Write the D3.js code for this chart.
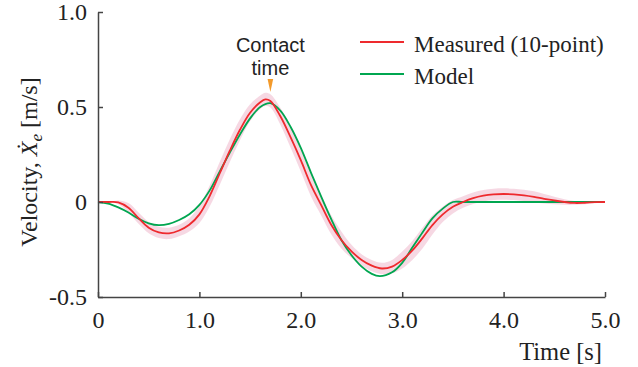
<!DOCTYPE html>
<html>
<head>
<meta charset="utf-8">
<script src="https://cdn.jsdelivr.net/npm/d3@7"></script>
<style>
  body { margin: 0; background: #fff; }
  svg { display: block; }
</style>
</head>
<body>
<div id="chart"></div>
<script>
// time [s] and velocity [m/s]
const measuredT = [0, 0.1, 0.2, 0.3, 0.4, 0.5, 0.6, 0.7, 0.8, 0.9, 1.0, 1.1, 1.2, 1.3, 1.4, 1.5, 1.6, 1.65, 1.7, 1.8, 1.9, 2.0,
  2.1, 2.2, 2.3, 2.4, 2.5, 2.6, 2.7, 2.8, 2.9, 3.0, 3.1, 3.2, 3.3, 3.4, 3.5, 3.6, 3.7, 3.8, 3.9, 4.0, 4.1, 4.2, 4.3,
  4.4, 4.5, 4.6, 4.7, 4.8, 4.9, 5.0];
const measuredV = [0, 0, -0.002, -0.03, -0.085, -0.135, -0.16, -0.165, -0.15, -0.12, -0.065, 0.03, 0.15, 0.27, 0.38, 0.47, 0.525, 0.54, 0.532, 0.45, 0.34, 0.22,
  0.09, -0.015, -0.12, -0.2, -0.26, -0.305, -0.335, -0.35, -0.34, -0.305, -0.255, -0.19, -0.12, -0.065, -0.025, 0.0, 0.02, 0.033, 0.04, 0.042, 0.04, 0.035, 0.027,
  0.017, 0.008, 0.0, -0.005, -0.004, -0.001, 0];
// spread of the 10 trials (half width of the shaded band)
const measuredSd = [0, 0, 0.01, 0.025, 0.03, 0.03, 0.03, 0.03, 0.03, 0.035, 0.045, 0.055, 0.06, 0.06, 0.055, 0.045, 0.035, 0.035, 0.035, 0.045, 0.055, 0.06,
  0.06, 0.055, 0.05, 0.045, 0.035, 0.03, 0.03, 0.03, 0.035, 0.045, 0.05, 0.055, 0.05, 0.04, 0.035, 0.03, 0.03, 0.03, 0.03, 0.03, 0.03, 0.03, 0.03,
  0.025, 0.02, 0.015, 0.01, 0.008, 0.005, 0.005];

const modelT = [0, 0.1, 0.2, 0.3, 0.4, 0.5, 0.6, 0.7, 0.8, 0.9, 1.0, 1.1, 1.2, 1.3, 1.4, 1.5, 1.6, 1.7, 1.8, 1.9, 2.0,
  2.1, 2.2, 2.3, 2.4, 2.5, 2.6, 2.7, 2.78, 2.9, 3.0, 3.1, 3.2, 3.3, 3.4, 3.5, 3.6, 4.0, 4.5, 5.0];
const modelV = [0, -0.008, -0.028, -0.055, -0.088, -0.112, -0.122, -0.115, -0.095, -0.065, -0.015, 0.06, 0.16, 0.26, 0.355, 0.44, 0.5, 0.52, 0.48, 0.395, 0.285,
  0.155, 0.03, -0.09, -0.2, -0.28, -0.34, -0.378, -0.39, -0.37, -0.32, -0.24, -0.16, -0.085, -0.035, 0, 0, 0, 0, 0];

const xTicks = [0, 1, 2, 3, 4, 5];
const xTickLabels = ["0", "1.0", "2.0", "3.0", "4.0", "5.0"];
const yTicks = [-0.5, 0, 0.5, 1.0];
const yTickLabels = ["-0.5", "0", "0.5", "1.0"];
const contactTime = 1.7;

const measured = measuredT.map((t, i) => ({ t: t, v: measuredV[i], sd: measuredSd[i] }));
const model = modelT.map((t, i) => ({ t: t, v: modelV[i] }));

const W = 638, H = 367;
const margin = { top: 12, right: 33, bottom: 70, left: 98 };
const width = W - margin.left - margin.right,
  height = H - margin.top - margin.bottom;

const svg = d3.select("#chart").append("svg")
  .attr("width", W)
  .attr("height", H);
const g = svg.append("g")
  .attr("transform", "translate(" + margin.left + "," + margin.top + ")");

const x = d3.scaleLinear().domain([0, 5]).range([0, width]);
const y = d3.scaleLinear().domain([-0.5, 1.0]).range([height, 0]);

const serif = "'Liberation Serif', 'Times New Roman', serif";
const sans = "'Liberation Sans', Arial, sans-serif";
const axisColor = "#444";

// shaded band
const band = d3.area()
  .curve(d3.curveCatmullRom.alpha(0.5))
  .x(d => x(d.t))
  .y0(d => y(d.v - d.sd))
  .y1(d => y(d.v + d.sd));
g.append("path")
  .datum(measured)
  .attr("d", band)
  .attr("fill", "#f3cbd9")
  .attr("opacity", 0.75);

const line = d3.line()
  .curve(d3.curveCatmullRom.alpha(0.5))
  .x(d => x(d.t))
  .y(d => y(d.v));

g.append("path")
  .datum(model)
  .attr("d", line)
  .attr("fill", "none")
  .attr("stroke", "#00a650")
  .attr("stroke-width", 1.8);

g.append("path")
  .datum(measured)
  .attr("d", line)
  .attr("fill", "none")
  .attr("stroke", "#ee2a2e")
  .attr("stroke-width", 1.8);

// axes with inward ticks
const xAxis = g.append("g")
  .attr("transform", "translate(0," + height + ")")
  .call(d3.axisBottom(x).tickValues(xTicks).tickSize(-5).tickSizeOuter(0).tickFormat((d, i) => xTickLabels[i]));
xAxis.selectAll("text")
  .attr("y", 31)
  .attr("dy", 0)
  .style("font-family", serif)
  .style("font-size", "24px")
  .attr("fill", "#222");

const yAxis = g.append("g")
  .call(d3.axisLeft(y).tickValues(yTicks).tickSize(-5).tickSizeOuter(0).tickFormat((d, i) => yTickLabels[i]));
yAxis.selectAll("text")
  .attr("x", -11)
  .style("font-family", serif)
  .style("font-size", "24px")
  .attr("fill", "#222");

[xAxis, yAxis].forEach(a => {
  a.select(".domain").attr("stroke", axisColor).attr("stroke-width", 1.5);
  a.selectAll(".tick line").attr("stroke", axisColor).attr("stroke-width", 1.5);
});

// axis titles
g.append("text")
  .attr("x", width - 3)
  .attr("y", height + 63)
  .attr("text-anchor", "end")
  .style("font-family", serif)
  .style("font-size", "24.5px")
  .attr("fill", "#222")
  .text("Time [s]");

const ylab = svg.append("text")
  .attr("transform", "translate(37,162) rotate(-90)")
  .attr("text-anchor", "middle")
  .style("font-family", serif)
  .style("font-size", "24px")
  .attr("fill", "#222");
ylab.append("tspan").text("Velocity, ");
ylab.append("tspan").style("font-style", "italic").text("X\u0307");
ylab.append("tspan").style("font-style", "italic").style("font-size", "17px").attr("dy", 5).text("e");
ylab.append("tspan").attr("dy", -5).text(" [m/s]");

// contact time marker
const cx = x(contactTime);
g.append("path")
  .attr("d", "M" + (cx - 2.8) + ",67L" + (cx + 2.8) + ",67L" + cx + ",80Z")
  .attr("fill", "#f39a2b");
const contact = g.append("text")
  .attr("text-anchor", "middle")
  .style("font-family", sans)
  .style("font-size", "20px")
  .attr("fill", "#222");
contact.append("tspan").attr("x", cx).attr("y", 40).text("Contact");
contact.append("tspan").attr("x", cx).attr("y", 63).text("time");

// legend
const legendItems = [
  { label: "Measured (10-point)", color: "#ee2a2e" },
  { label: "Model", color: "#00a650" }
];
const legend = svg.append("g").attr("transform", "translate(360,42)");
legendItems.forEach((d, i) => {
  const row = legend.append("g").attr("transform", "translate(0," + i * 32 + ")");
  row.append("line")
    .attr("x1", 0).attr("x2", 44)
    .attr("y1", 0).attr("y2", 0)
    .attr("stroke", d.color)
    .attr("stroke-width", 1.8);
  row.append("text")
    .attr("x", 54)
    .attr("y", 9.5)
    .style("font-family", serif)
    .style("font-size", "23px")
    .attr("fill", "#222")
    .text(d.label);
});
</script>
</body>
</html>
